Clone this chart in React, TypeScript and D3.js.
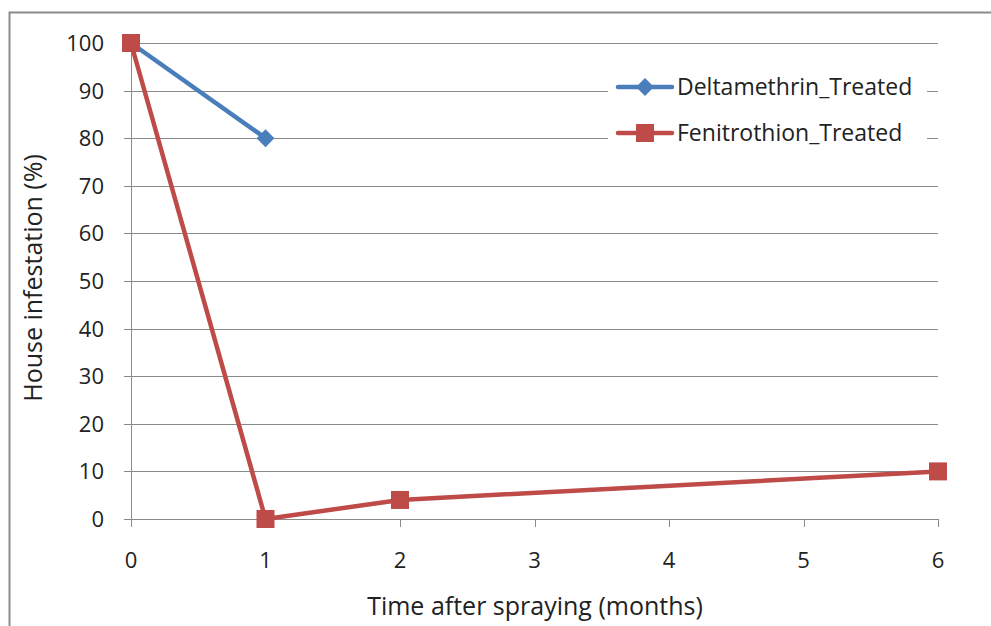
import { useEffect, useRef } from 'react';
import * as d3 from 'd3';

const W = 991;
const H = 626;

// data
const months = [0, 1, 2, 6];
const deltamethrin = [100, 80];
const fenitrothion = [100, 0, 4, 10];
const xTicks = [0, 1, 2, 3, 4, 5, 6];
const yTicks = [0, 10, 20, 30, 40, 50, 60, 70, 80, 90, 100];

const seriesNames = ['Deltamethrin_Treated', 'Fenitrothion_Treated'];
const seriesColors = ['#4a7ebb', '#be4b48'];

const FONT = "'Open Sans', 'Noto Sans', sans-serif";

const App = () => {
  const svgRef = useRef<SVGSVGElement>(null);

  useEffect(() => {
    if (!svgRef.current) return;
    const svg = d3.select(svgRef.current);
    svg.selectAll('*').remove();

    const x = d3.scaleLinear().domain([0, 6]).range([131, 938]);
    const y = d3.scaleLinear().domain([0, 100]).range([519, 43]);

    // outer frame
    svg
      .append('rect')
      .attr('x', 9.5)
      .attr('y', 12.5)
      .attr('width', 1000)
      .attr('height', 700)
      .attr('fill', 'white')
      .attr('stroke', '#8c8c8c')
      .attr('stroke-width', 2);

    // gridlines + y ticks
    svg
      .append('g')
      .selectAll('line')
      .data(yTicks.filter((d) => d > 0))
      .join('line')
      .attr('x1', 124)
      .attr('x2', x(6))
      .attr('y1', (d) => Math.round(y(d)) + 0.5)
      .attr('y2', (d) => Math.round(y(d)) + 0.5)
      .attr('stroke', '#8a8a8a')
      .attr('stroke-width', 1);

    // y axis line
    svg
      .append('line')
      .attr('x1', x(0) + 0.5)
      .attr('x2', x(0) + 0.5)
      .attr('y1', y(100))
      .attr('y2', y(0))
      .attr('stroke', '#8a8a8a');

    // x axis line and ticks
    svg
      .append('line')
      .attr('x1', 124)
      .attr('x2', x(6))
      .attr('y1', Math.round(y(0)) + 0.5)
      .attr('y2', Math.round(y(0)) + 0.5)
      .attr('stroke', '#8a8a8a');

    svg
      .append('g')
      .selectAll('line')
      .data(xTicks)
      .join('line')
      .attr('x1', (d) => Math.round(x(d)) + 0.5)
      .attr('x2', (d) => Math.round(x(d)) + 0.5)
      .attr('y1', y(0))
      .attr('y2', y(0) + 8)
      .attr('stroke', '#8a8a8a');

    // tick labels
    svg
      .append('g')
      .selectAll('text')
      .data(yTicks)
      .join('text')
      .attr('x', 104)
      .attr('y', (d) => y(d) + 8)
      .attr('text-anchor', 'end')
      .attr('font-family', FONT)
      .attr('font-size', 22)
      .attr('fill', '#222')
      .text((d) => d);

    svg
      .append('g')
      .selectAll('text')
      .data(xTicks)
      .join('text')
      .attr('x', (d) => x(d))
      .attr('y', 568)
      .attr('text-anchor', 'middle')
      .attr('font-family', FONT)
      .attr('font-size', 22)
      .attr('fill', '#222')
      .text((d) => d);

    // axis titles
    svg
      .append('text')
      .attr('x', 535)
      .attr('y', 615)
      .attr('text-anchor', 'middle')
      .attr('font-family', FONT)
      .attr('font-size', 25)
      .attr('fill', '#222')
      .text('Time after spraying (months)');

    svg
      .append('text')
      .attr('transform', 'translate(42,278) rotate(-90)')
      .attr('text-anchor', 'middle')
      .attr('font-family', FONT)
      .attr('font-size', 25)
      .attr('fill', '#222')
      .text('House infestation (%)');

    const line = d3
      .line<[number, number]>()
      .x((d) => x(d[0]))
      .y((d) => y(d[1]));

    const deltaPts: [number, number][] = deltamethrin.map((v, i) => [months[i], v]);
    const feniPts: [number, number][] = fenitrothion.map((v, i) => [months[i], v]);

    const diamond = d3.symbol().type(d3.symbolSquare).size(160);
    const square = 18;

    // Deltamethrin
    svg
      .append('path')
      .attr('d', line(deltaPts))
      .attr('fill', 'none')
      .attr('stroke', seriesColors[0])
      .attr('stroke-width', 4.5)
      .attr('stroke-linejoin', 'round');
    svg
      .append('g')
      .selectAll('path')
      .data(deltaPts)
      .join('path')
      .attr('d', diamond)
      .attr('transform', (d) => `translate(${x(d[0])},${y(d[1])}) rotate(45)`)
      .attr('fill', seriesColors[0]);

    // Fenitrothion
    svg
      .append('path')
      .attr('d', line(feniPts))
      .attr('fill', 'none')
      .attr('stroke', seriesColors[1])
      .attr('stroke-width', 4.5)
      .attr('stroke-linejoin', 'round');
    svg
      .append('g')
      .selectAll('rect')
      .data(feniPts)
      .join('rect')
      .attr('x', (d) => x(d[0]) - square / 2)
      .attr('y', (d) => y(d[1]) - square / 2)
      .attr('width', square)
      .attr('height', square)
      .attr('fill', seriesColors[1]);

    // legend
    const legend = svg.append('g');
    legend
      .append('rect')
      .attr('x', 608)
      .attr('y', 62)
      .attr('width', 319)
      .attr('height', 100)
      .attr('fill', 'white');

    seriesNames.forEach((name, i) => {
      const ly = 87 + i * 46;
      const g = legend.append('g');
      g.append('line')
        .attr('x1', 618)
        .attr('x2', 672)
        .attr('y1', ly)
        .attr('y2', ly)
        .attr('stroke', seriesColors[i])
        .attr('stroke-width', 4.5)
        .attr('stroke-linecap', 'round');
      if (i === 0) {
        g.append('path')
          .attr('d', diamond)
          .attr('transform', `translate(645,${ly}) rotate(45)`)
          .attr('fill', seriesColors[i]);
      } else {
        g.append('rect')
          .attr('x', 645 - square / 2)
          .attr('y', ly - square / 2)
          .attr('width', square)
          .attr('height', square)
          .attr('fill', seriesColors[i]);
      }
      g.append('text')
        .attr('x', 677)
        .attr('y', ly + 8)
        .attr('font-family', FONT)
        .attr('font-size', 23)
        .attr('fill', '#222')
        .text(name);
    });
  }, []);

  return (
    <div style={{ position: 'absolute', left: 0, top: 0 }}>
      <svg ref={svgRef} width={W} height={H} style={{ display: 'block' }} />
    </div>
  );
};

export default App;
